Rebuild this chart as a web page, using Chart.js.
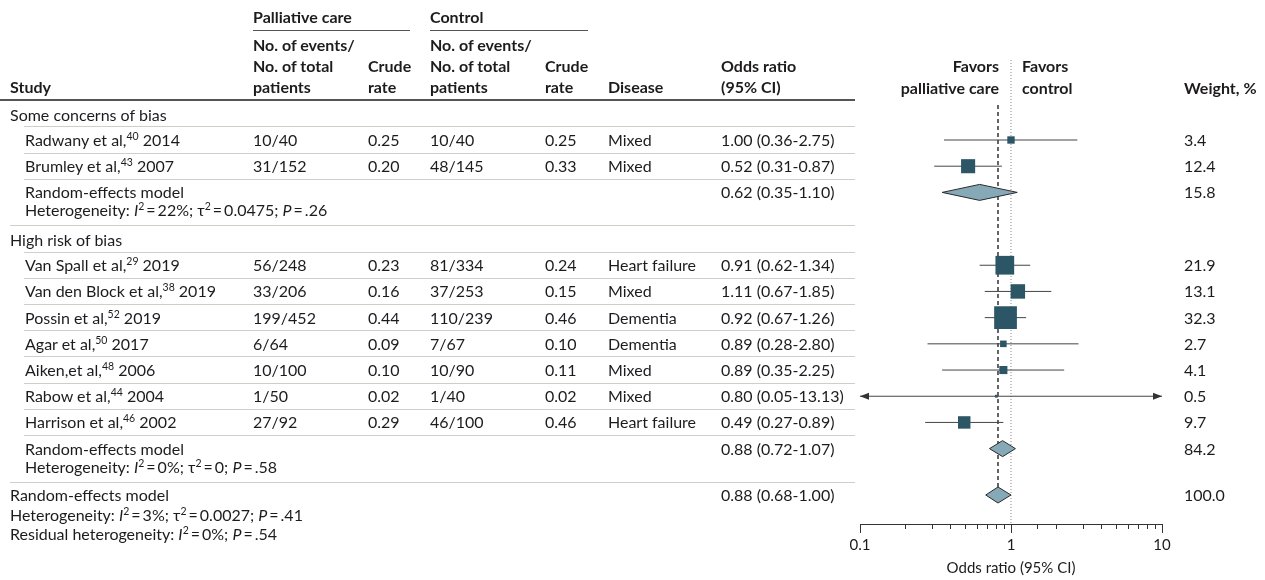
<!DOCTYPE html>
<html>
<head>
<meta charset="utf-8">
<title>Forest plot</title>
<script src="https://cdn.jsdelivr.net/npm/chart.js@4.4.1/dist/chart.umd.min.js"></script>
<style>
  body { margin: 0; background: #fff; }
  #wrap { position: relative; width: 1265px; height: 580px; overflow: hidden; font-family: Lato, "Noto Sans", sans-serif; color: #1e1b1c; }
  #forest { position: absolute; left: 0; top: 0; }
  #overlay { position: absolute; left: 0; top: 0; width: 1265px; height: 580px; pointer-events: none; }
  .t { position: absolute; white-space: nowrap; font-size: 16px; line-height: 18px; }
  .b { font-weight: bold; }
  .sup { font-size: 10.5px; position: relative; top: -6px; }
  .rule { position: absolute; height: 0; }
</style>
</head>
<body>
<div id="wrap">
  <canvas id="forest" width="1265" height="580"></canvas>
  <div id="overlay"></div>
</div>
<script>
// ---- data ----
const biasGroups = ['Some concerns of bias', 'High risk of bias'];
const groupSizes = [2, 7];
const studyNames = ['Radwany et al,', 'Brumley et al,', 'Van Spall et al,', 'Van den Block et al,', 'Possin et al,', 'Agar et al,', 'Aiken,et al,', 'Rabow et al,', 'Harrison et al,'];
const studyRefs = ['40', '43', '29', '38', '52', '50', '48', '44', '46'];
const studyYears = ['2014', '2007', '2019', '2019', '2019', '2017', '2006', '2004', '2002'];
const pallEvents = ['10/40', '31/152', '56/248', '33/206', '199/452', '6/64', '10/100', '1/50', '27/92'];
const pallRate = ['0.25', '0.20', '0.23', '0.16', '0.44', '0.09', '0.10', '0.02', '0.29'];
const ctrlEvents = ['10/40', '48/145', '81/334', '37/253', '110/239', '7/67', '10/90', '1/40', '46/100'];
const ctrlRate = ['0.25', '0.33', '0.24', '0.15', '0.46', '0.10', '0.11', '0.02', '0.46'];
const disease = ['Mixed', 'Mixed', 'Heart failure', 'Mixed', 'Dementia', 'Dementia', 'Mixed', 'Mixed', 'Heart failure'];
const oddsRatio = [1.00, 0.52, 0.91, 1.11, 0.92, 0.89, 0.89, 0.80, 0.49];
const ciLow = [0.36, 0.31, 0.62, 0.67, 0.67, 0.28, 0.35, 0.05, 0.27];
const ciHigh = [2.75, 0.87, 1.34, 1.85, 1.26, 2.80, 2.25, 13.13, 0.89];
const weight = [3.4, 12.4, 21.9, 13.1, 32.3, 2.7, 4.1, 0.5, 9.7];

// random-effects summaries: group 1, group 2, overall
const summaryOR = [0.62, 0.88, 0.82];   // diamond centre as drawn
const summaryLow = [0.35, 0.72, 0.68];
const summaryHigh = [1.10, 1.07, 1.00];
const summaryText = ['0.62 (0.35-1.10)', '0.88 (0.72-1.07)', '0.88 (0.68-1.00)'];
const summaryWeight = [15.8, 84.2, 100.0];
const hetI2 = ['22%', '0%', '3%'];
const hetTau2 = ['0.0475', '0', '0.0027'];
const hetP = ['.26', '.58', '.41'];
const residualI2 = '0%';
const residualP = '.54';
const axisTicks = [0.1, 1, 10];

// ---- layout (y in row slots, one slot = one study row) ----
const SLOT_PX = 26.2;
const FIRST_ROW_Y = 140;
const AXIS_Y = 524;
const yMin = -FIRST_ROW_Y / SLOT_PX;
const yMax = yMin + AXIS_Y / SLOT_PX;
const groupStart = [0, 4.78];
const overallSlot = 13.55;

const studySlot = [];
groupSizes.forEach((n, g) => {
    for (let j = 0; j < n; j++) studySlot.push(groupStart[g] + j);
});
const summarySlot = [groupStart[0] + groupSizes[0], groupStart[1] + groupSizes[1], overallSlot];

const TEXT = '#1e1b1c';
const SQUARE = '#2c5566';
const DIAMOND = '#86a9b7';

Chart.defaults.font.family = 'Lato, "Noto Sans", sans-serif';
Chart.defaults.color = TEXT;

function isDecade(v) {
    const l = Math.log10(v);
    return Math.abs(l - Math.round(l)) < 1e-9;
}

// diamonds, arrowheads for CIs beyond the axis and longer decade ticks
const forestExtras = {
    id: 'forestExtras',
    afterDatasetsDraw(chart) {
        const { ctx, scales: { x, y } } = chart;
        ctx.save();
        summaryOR.forEach((est, i) => {
            const yc = y.getPixelForValue(summarySlot[i]);
            const xl = x.getPixelForValue(summaryLow[i]);
            const xm = x.getPixelForValue(est);
            const xr = x.getPixelForValue(summaryHigh[i]);
            ctx.beginPath();
            ctx.moveTo(xl, yc);
            ctx.lineTo(xm, yc - 8);
            ctx.lineTo(xr, yc);
            ctx.lineTo(xm, yc + 8);
            ctx.closePath();
            ctx.fillStyle = DIAMOND;
            ctx.fill();
            ctx.strokeStyle = '#2a2a2a';
            ctx.lineWidth = 1;
            ctx.stroke();
        });
        ctx.fillStyle = '#333';
        studySlot.forEach((s, i) => {
            const yc = y.getPixelForValue(s);
            if (ciLow[i] < x.min) {
                const tip = x.getPixelForValue(x.min);
                ctx.beginPath();
                ctx.moveTo(tip, yc);
                ctx.lineTo(tip + 9, yc - 3.5);
                ctx.lineTo(tip + 9, yc + 3.5);
                ctx.closePath();
                ctx.fill();
            }
            if (ciHigh[i] > x.max) {
                const tip = x.getPixelForValue(x.max);
                ctx.beginPath();
                ctx.moveTo(tip, yc);
                ctx.lineTo(tip - 9, yc - 3.5);
                ctx.lineTo(tip - 9, yc + 3.5);
                ctx.closePath();
                ctx.fill();
            }
        });
        ctx.strokeStyle = '#333';
        ctx.lineWidth = 1;
        axisTicks.forEach(v => {
            const px = Math.round(x.getPixelForValue(v)) + 0.5;
            ctx.beginPath();
            ctx.moveTo(px, x.top);
            ctx.lineTo(px, x.top + 9);
            ctx.stroke();
        });
        ctx.restore();
    }
};

const ciSets = studySlot.map((s, i) => ({
    data: [{ x: ciLow[i], y: s }, { x: ciHigh[i], y: s }],
    showLine: true,
    borderColor: '#454545',
    borderWidth: 1,
    pointRadius: 0,
    order: 2
}));

const chart = new Chart(document.getElementById('forest'), {
    type: 'scatter',
    data: {
        datasets: [
            {
                data: studySlot.map((s, i) => ({ x: oddsRatio[i], y: s })),
                pointStyle: 'rect',
                pointRadius: ctx => 4 * Math.sqrt(weight[ctx.dataIndex] || 0) / Math.SQRT2,
                backgroundColor: SQUARE,
                borderWidth: 0,
                order: 0
            },
            ...ciSets,
            {
                // line of no effect
                data: [{ x: 1, y: yMin + 60 / SLOT_PX }, { x: 1, y: yMax }],
                showLine: true,
                borderColor: '#8a8a8a',
                borderDash: [1, 2],
                borderWidth: 1,
                pointRadius: 0,
                order: 3
            },
            {
                // overall estimate
                data: [{ x: summaryOR[2], y: yMin + 105 / SLOT_PX }, { x: summaryOR[2], y: overallSlot - 8 / SLOT_PX }],
                showLine: true,
                borderColor: '#333',
                borderDash: [4, 3],
                borderWidth: 1.5,
                pointRadius: 0,
                order: 3
            }
        ]
    },
    options: {
        responsive: false,
        animation: false,
        events: [],
        layout: { autoPadding: false, padding: { left: 860, right: 103, top: 0, bottom: 0 } },
        plugins: { legend: { display: false }, tooltip: { enabled: false } },
        scales: {
            x: {
                type: 'logarithmic',
                min: 0.1,
                max: 10,
                border: { display: true, color: '#333', width: 1 },
                grid: { display: true, drawOnChartArea: false, drawTicks: true, tickLength: 5, tickColor: '#333', tickWidth: 1 },
                ticks: {
                    autoSkip: false,
                    maxRotation: 0,
                    padding: 7,
                    color: TEXT,
                    font: { size: 15 },
                    callback: v => isDecade(v) ? String(v) : ''
                },
                title: { display: true, text: 'Odds ratio (95% CI)', color: TEXT, font: { size: 15, lineHeight: 1 }, padding: { top: 0, bottom: 4 } }
            },
            y: { type: 'linear', reverse: true, min: yMin, max: yMax, display: false }
        }
    },
    plugins: [forestExtras]
});

// ---- table text, placed on the chart's own row scale ----
const overlay = document.getElementById('overlay');
const ypx = s => chart.scales.y.getPixelForValue(s);

function put(html, x, y, cls, align) {
    const d = document.createElement('div');
    d.className = 't' + (cls ? ' ' + cls : '');
    d.innerHTML = html;
    d.style.top = (y - 9) + 'px';
    if (align === 'right') d.style.right = (1265 - x) + 'px';
    else d.style.left = x + 'px';
    overlay.appendChild(d);
}
function rule(x1, x2, y, w, color) {
    const d = document.createElement('div');
    d.className = 'rule';
    d.style.left = x1 + 'px';
    d.style.width = (x2 - x1) + 'px';
    d.style.top = Math.round(y - w / 2) + 'px';
    d.style.borderTop = w + 'px solid ' + color;
    overlay.appendChild(d);
}
function het(i2, tau2, p) {
    let s = 'Heterogeneity: <i>I</i><span class="sup">2</span>\u2009=\u2009' + i2 + ';';
    if (tau2 !== null) s += ' \u03c4<span class="sup">2</span>\u2009=\u2009' + tau2 + ';';
    return s + ' <i>P</i>\u2009=\u2009' + p;
}

// header
put('Palliative care', 253, 17, 'b');
put('Control', 430, 17, 'b');
rule(253, 410, 30, 1, '#555');
rule(430, 588, 30, 1, '#555');
[253, 430].forEach(x => {
    put('No. of events/', x, 45, 'b');
    put('No. of total', x, 66, 'b');
    put('patients', x, 87, 'b');
});
[368, 545].forEach(x => {
    put('Crude', x, 66, 'b');
    put('rate', x, 87, 'b');
});
put('Study', 10, 87, 'b');
put('Disease', 608, 87, 'b');
put('Odds ratio', 721, 66, 'b');
put('(95% CI)', 721, 87, 'b');
put('Favors', 999, 66, 'b', 'right');
put('palliative care', 999, 88, 'b', 'right');
put('Favors', 1022, 66, 'b');
put('control', 1022, 88, 'b');
put('Weight, %', 1184, 88, 'b');
rule(0, 855, 100, 2, '#555');

// groups
const SEP = '#cfcfc8';
let k = 0;
biasGroups.forEach((g, gi) => {
    const start = groupStart[gi];
    put(g, 10, ypx(start - 0.95));
    rule(24, 855, ypx(start - 0.5), 1, SEP);
    for (let j = 0; j < groupSizes[gi]; j++, k++) {
        const y = ypx(studySlot[k]);
        put(studyNames[k] + '<span class="sup">' + studyRefs[k] + '</span> ' + studyYears[k], 25, y);
        put(pallEvents[k], 253, y);
        put(pallRate[k], 368, y);
        put(ctrlEvents[k], 430, y);
        put(ctrlRate[k], 545, y);
        put(disease[k], 608, y);
        put(oddsRatio[k].toFixed(2) + ' (' + ciLow[k].toFixed(2) + '-' + ciHigh[k].toFixed(2) + ')', 721, y);
        put(weight[k].toFixed(1), 1184, y);
        rule(24, 855, ypx(studySlot[k] + 0.5), 1, SEP);
    }
    const rs = summarySlot[gi];
    put('Random-effects model', 25, ypx(rs));
    put(summaryText[gi], 721, ypx(rs));
    put(summaryWeight[gi].toFixed(1), 1184, ypx(rs));
    put(het(hetI2[gi], hetTau2[gi], hetP[gi]), 25, ypx(rs) + 18);
    rule(10, 855, ypx(rs + 1.28), 1, SEP);
});

// overall
const oy = ypx(overallSlot);
put('Random-effects model', 10, oy);
put(summaryText[2], 721, oy);
put(summaryWeight[2].toFixed(1), 1184, oy);
put(het(hetI2[2], hetTau2[2], hetP[2]), 10, oy + 19.5);
put('Residual heterogeneity: <i>I</i><span class="sup">2</span>\u2009=\u2009' + residualI2 + '; <i>P</i>\u2009=\u2009' + residualP, 10, oy + 39);
</script>
</body>
</html>
